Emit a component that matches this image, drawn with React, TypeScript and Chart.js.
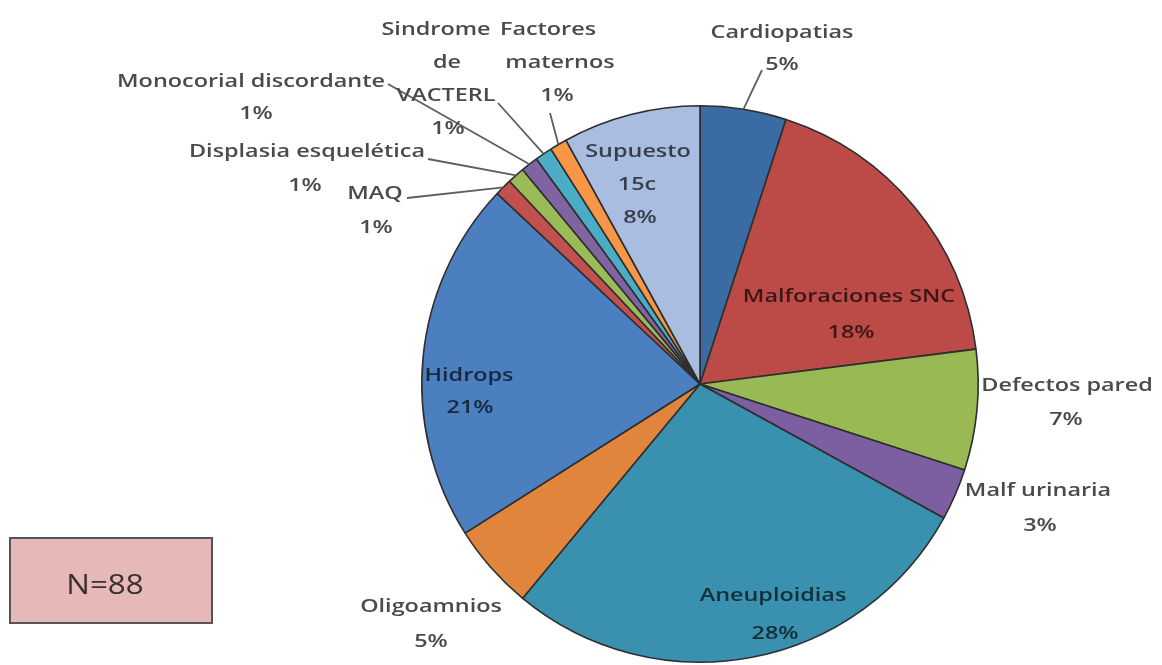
import React, { useEffect, useRef } from "react";
import { Chart, registerables } from "chart.js";

Chart.register(...registerables);

const LABEL_LINES: string[][] = [
  ["Cardiopatias"],
  ["Malforaciones SNC"],
  ["Defectos pared"],
  ["Malf urinaria"],
  ["Aneuploidias"],
  ["Oligoamnios"],
  ["Hidrops"],
  ["MAQ"],
  ["Displasia esquelética"],
  ["Monocorial discordante"],
  ["Sindrome", "de", "VACTERL"],
  ["Factores", "maternos"],
  ["Supuesto", "15c"],
];
const LABELS = LABEL_LINES.map((l) => l.join(" "));
const VALUES = [5, 18, 7, 3, 28, 5, 21, 1, 1, 1, 1, 1, 8];
const COLORS = [
  "#3B6BA3",
  "#BC4A46",
  "#98B954",
  "#7B5FA1",
  "#3A90AF",
  "#E0853B",
  "#4C7FC0",
  "#C2504D",
  "#9BBB59",
  "#8064A2",
  "#4BACC6",
  "#F79646",
  "#A9BDE1",
];
const N_TEXT = "N=88";

// label layout: offsets from pie centre (px): per-line x, first-line y, line gap, inside flag, leader anchor
const LAYOUT = [
  { xs: [82, 82], y: -351, gap: 32, inside: false, lead: [62, -314] },
  { xs: [149, 151], y: -87, gap: 36, inside: true },
  { xs: [367, 366], y: 2, gap: 34, inside: false },
  { xs: [338, 340], y: 107, gap: 35, inside: false },
  { xs: [73, 75], y: 212, gap: 38, inside: true },
  { xs: [-269, -269], y: 223, gap: 35, inside: false },
  { xs: [-231, -230], y: -8, gap: 32, inside: true },
  { xs: [-325, -324], y: -190, gap: 34, inside: false, lead: [-293, -186] },
  { xs: [-393, -395], y: -232, gap: 34, inside: false, lead: [-272, -225] },
  { xs: [-449, -444], y: -302, gap: 32, inside: false, lead: [-312, -300] },
  { xs: [-264, -253, -254, -252], y: -354, gap: 33, inside: false, lead: [-202, -281] },
  { xs: [-152, -140, -143], y: -354, gap: 33, inside: false, lead: [-150, -271] },
  { xs: [-62, -63, -60], y: -232, gap: 33, inside: true },
];

const FONT = '600 18px "Open Sans", sans-serif';
const SX = 1.3;

const labelPlugin = {
  id: "pieLabels",
  afterDatasetsDraw(chart: any) {
    const ctx = chart.ctx as CanvasRenderingContext2D;
    const meta = chart.getDatasetMeta(0);
    const arcs = meta.data as any[];
    if (!arcs.length) return;
    const cx = arcs[0].x;
    const cy = arcs[0].y;
    const total = VALUES.reduce((a, b) => a + b, 0);
    ctx.save();
    arcs.forEach((arc: any, i: number) => {
      const lay = LAYOUT[i];
      const pct = Math.round((VALUES[i] / total) * 100) + "%";
      const lines = [...LABEL_LINES[i], pct];
      if (lay.lead) {
        const mid = (arc.startAngle + arc.endAngle) / 2;
        const r = arc.outerRadius;
        ctx.beginPath();
        ctx.moveTo(cx + Math.cos(mid) * r, cy + Math.sin(mid) * r);
        ctx.lineTo(cx + lay.lead[0], cy + lay.lead[1]);
        ctx.strokeStyle = "#5e5e5e";
        ctx.lineWidth = 1.8;
        ctx.stroke();
      }
      ctx.font = FONT;
      ctx.textAlign = "center";
      ctx.textBaseline = "middle";
      ctx.fillStyle = lay.inside ? "rgba(0,0,0,0.68)" : "#4a4a4a";
      lines.forEach((line, k) => {
        const x = cx + lay.xs[Math.min(k, lay.xs.length - 1)];
        const y = cy + lay.y + k * lay.gap;
        ctx.save();
        ctx.translate(x, y);
        ctx.scale(SX, 1);
        ctx.fillText(line, 0, 0);
        ctx.restore();
      });
    });
    // N box
    const bx = 10, by = 538, bw = 202, bh = 85;
    ctx.fillStyle = "#E6B9B8";
    ctx.fillRect(bx, by, bw, bh);
    ctx.strokeStyle = "#555555";
    ctx.lineWidth = 2;
    ctx.strokeRect(bx, by, bw, bh);
    ctx.font = '28px "Open Sans", sans-serif';
    ctx.textAlign = "center";
    ctx.textBaseline = "middle";
    ctx.fillStyle = "#3a3030";
    ctx.save();
    ctx.translate(bx + 95, by + 48);
    ctx.scale(1.12, 1);
    ctx.fillText(N_TEXT, 0, 0);
    ctx.restore();
    ctx.restore();
  },
};

export default function App() {
  const ref = useRef<HTMLCanvasElement | null>(null);
  useEffect(() => {
    document.body.style.margin = "0";
    if (!ref.current) return;
    const chart = new Chart(ref.current, {
      type: "pie",
      data: {
        labels: LABELS,
        datasets: [
          {
            data: VALUES,
            backgroundColor: COLORS,
            borderColor: "#2e2e2e",
            borderWidth: 1.6,
          },
        ],
      },
      options: {
        animation: false,
        responsive: false,
        layout: { padding: { top: 105, bottom: 2, left: 421, right: 183 } },
        plugins: {
          legend: { display: false },
          tooltip: { enabled: false },
        },
      },
      plugins: [labelPlugin],
    });
    return () => chart.destroy();
  }, []);
  return (
    <div style={{ width: 1162, height: 665, background: "#fff" }}>
      <canvas ref={ref} width={1162} height={665} style={{ filter: "blur(0.5px)" }} />
    </div>
  );
}
